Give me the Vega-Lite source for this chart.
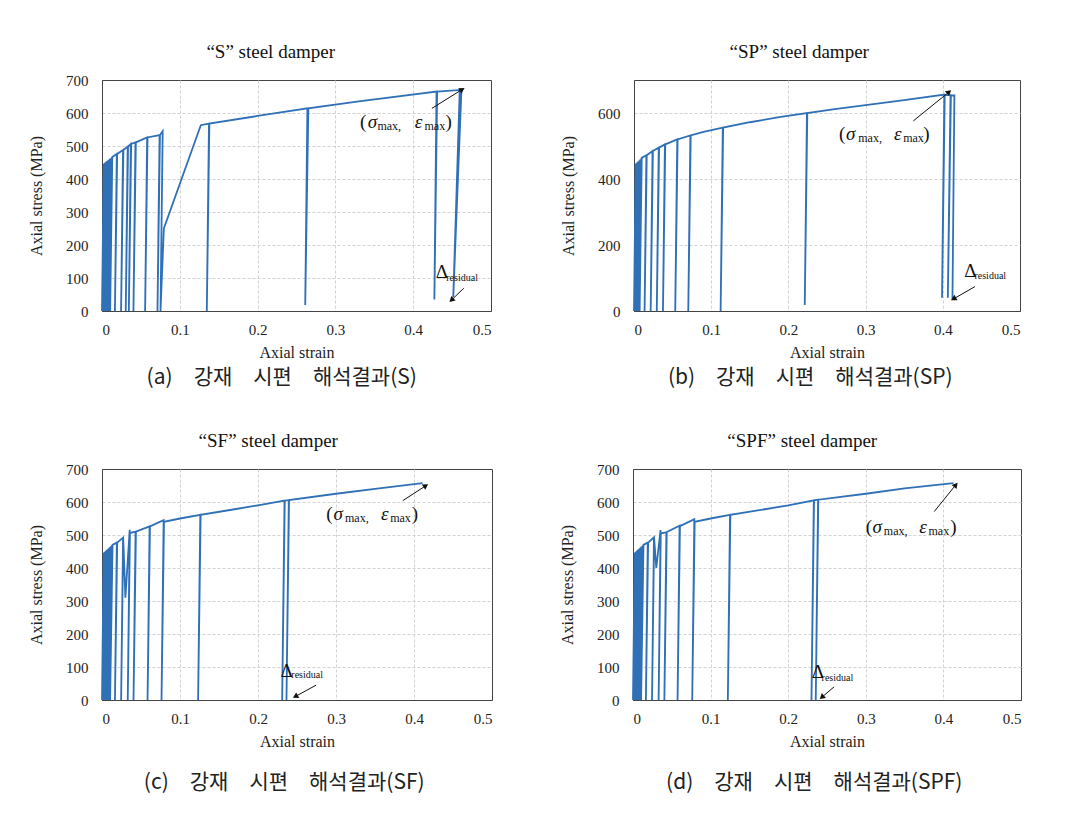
{
  "$schema": "https://vega.github.io/schema/vega-lite/v6.json",
  "background": "white",
  "padding": {"top": 42, "left": 28, "right": 5, "bottom": 5},
  "config": {
    "font": "Liberation Serif",
    "view": {"stroke": "#444", "strokeWidth": 1},
    "axis": {"gridColor": "#d2d2d2", "gridDash": [3, 2], "domainColor": "#444", "labelFont": "Liberation Serif", "labelFontSize": 15, "labelColor": "#222", "titleFont": "Liberation Serif", "titleFontSize": 16, "titleFontWeight": "normal", "titleColor": "#222", "ticks": false},
    "axisY": {"titlePadding": 21, "labelPadding": 14, "gridOpacity": {"condition": {"test": "datum.value >= 700 || datum.value <= 0", "value": 0}, "value": 1}},
    "axisX": {"titlePadding": 7, "labelPadding": 11, "gridOpacity": {"condition": {"test": "datum.value >= 0.5 || datum.value <= 0", "value": 0}, "value": 1}},
    "title": {"font": "Liberation Serif", "fontSize": 19, "fontWeight": "normal", "color": "#111", "frame": "bounds", "offset": 11},
    "text": {"font": "Liberation Serif", "color": "#111", "align": "left", "baseline": "alphabetic"}
  },
  "datasets": {
    "a": [
      {"x":0,"y":0},
      {"x":0.0023,"y":446},{"x":0.0001,"y":0},
      {"x":0.0032,"y":448},{"x":0.0010,"y":0},
      {"x":0.0042,"y":450},{"x":0.0020,"y":0},
      {"x":0.0052,"y":452},{"x":0.0030,"y":0},
      {"x":0.0063,"y":454},{"x":0.0041,"y":0},
      {"x":0.0074,"y":456},{"x":0.0052,"y":0},
      {"x":0.0086,"y":458},{"x":0.0064,"y":0},
      {"x":0.0099,"y":461},{"x":0.0076,"y":0},
      {"x":0.0113,"y":463},{"x":0.0090,"y":0},
      {"x":0.0128,"y":466},{"x":0.0105,"y":0},
      {"x":0.0132,"y":467},
      {"x":0.019,"y":476},{"x":0.0166,"y":0},{"x":0.0195,"y":476},
      {"x":0.027,"y":488},{"x":0.0245,"y":0},{"x":0.0275,"y":488},
      {"x":0.033,"y":498},{"x":0.0305,"y":0},{"x":0.0335,"y":498},
      {"x":0.037,"y":506},{"x":0.0345,"y":0},{"x":0.0375,"y":506},
      {"x":0.043,"y":511},{"x":0.0404,"y":0},{"x":0.0435,"y":511},
      {"x":0.058,"y":526},{"x":0.0554,"y":0},{"x":0.0585,"y":526},
      {"x":0.074,"y":533},{"x":0.0713,"y":0},{"x":0.0745,"y":533},
      {"x":0.078,"y":545},{"x":0.0752,"y":0},{"x":0.0795,"y":250},
      {"x":0.127,"y":563},{"x":0.1375,"y":568},{"x":0.1347,"y":0},{"x":0.138,"y":568},
      {"x":0.2,"y":591},{"x":0.264,"y":614},{"x":0.2612,"y":18},{"x":0.2652,"y":614},
      {"x":0.33,"y":635},{"x":0.43,"y":665},{"x":0.4272,"y":35},{"x":0.4308,"y":665},
      {"x":0.462,"y":670},{"x":0.4515,"y":42},{"x":0.4598,"y":668}
    ],
    "b": [
      {"x":0,"y":0},
      {"x":0.0022,"y":446},{"x":0.0000,"y":0},
      {"x":0.0031,"y":448},{"x":0.0009,"y":0},
      {"x":0.0040,"y":450},{"x":0.0018,"y":0},
      {"x":0.0050,"y":452},{"x":0.0028,"y":0},
      {"x":0.0060,"y":454},{"x":0.0038,"y":0},
      {"x":0.0071,"y":457},{"x":0.0049,"y":0},
      {"x":0.0083,"y":460},{"x":0.0061,"y":0},
      {"x":0.0096,"y":463},{"x":0.0073,"y":0},
      {"x":0.0100,"y":464},
      {"x":0.016,"y":472},{"x":0.0137,"y":0},{"x":0.0165,"y":472},
      {"x":0.024,"y":485},{"x":0.0216,"y":0},{"x":0.0245,"y":485},
      {"x":0.032,"y":495},{"x":0.0295,"y":0},{"x":0.0325,"y":495},
      {"x":0.040,"y":505},{"x":0.0375,"y":0},{"x":0.0405,"y":505},
      {"x":0.056,"y":520},{"x":0.0534,"y":0},{"x":0.0565,"y":520},
      {"x":0.073,"y":532},{"x":0.0703,"y":0},{"x":0.0735,"y":532},
      {"x":0.09,"y":543},{"x":0.115,"y":556},{"x":0.1122,"y":0},{"x":0.1155,"y":556},
      {"x":0.15,"y":572},{"x":0.19,"y":588},{"x":0.224,"y":600},{"x":0.2212,"y":18},{"x":0.2245,"y":600},
      {"x":0.26,"y":612},{"x":0.3,"y":624},{"x":0.35,"y":639},{"x":0.402,"y":656},{"x":0.399,"y":40},{"x":0.4025,"y":655},
      {"x":0.410,"y":654},{"x":0.4065,"y":40},{"x":0.4105,"y":653},{"x":0.415,"y":653},{"x":0.4125,"y":33}
    ],
    "c": [
      {"x":0,"y":0},
      {"x":0.0022,"y":446},{"x":0.0000,"y":0},
      {"x":0.0031,"y":448},{"x":0.0009,"y":0},
      {"x":0.0041,"y":450},{"x":0.0019,"y":0},
      {"x":0.0051,"y":452},{"x":0.0029,"y":0},
      {"x":0.0062,"y":455},{"x":0.0040,"y":0},
      {"x":0.0073,"y":457},{"x":0.0051,"y":0},
      {"x":0.0085,"y":460},{"x":0.0063,"y":0},
      {"x":0.0098,"y":463},{"x":0.0075,"y":0},
      {"x":0.0112,"y":466},{"x":0.0089,"y":0},
      {"x":0.0127,"y":469},{"x":0.0104,"y":0},
      {"x":0.0135,"y":470},
      {"x":0.019,"y":477},{"x":0.0166,"y":0},{"x":0.0195,"y":477},
      {"x":0.027,"y":492},{"x":0.0245,"y":0},{"x":0.0272,"y":490},{"x":0.030,"y":310},{"x":0.0355,"y":516},{"x":0.033,"y":0},{"x":0.0358,"y":506},
      {"x":0.043,"y":510},{"x":0.0404,"y":0},{"x":0.0435,"y":510},
      {"x":0.061,"y":526},{"x":0.0584,"y":0},{"x":0.0615,"y":526},
      {"x":0.079,"y":545},{"x":0.0763,"y":0},{"x":0.0795,"y":540},
      {"x":0.1,"y":550},{"x":0.126,"y":561},{"x":0.1232,"y":0},{"x":0.1265,"y":561},
      {"x":0.17,"y":578},{"x":0.2,"y":590},{"x":0.234,"y":604},{"x":0.2310,"y":0},{"x":0.2343,"y":604},{"x":0.2395,"y":606},{"x":0.2365,"y":0},{"x":0.2398,"y":606},
      {"x":0.3,"y":625},{"x":0.35,"y":640},{"x":0.411,"y":657}
    ],
    "d": [
      {"x":0,"y":0},
      {"x":0.0022,"y":446},{"x":0.0000,"y":0},
      {"x":0.0031,"y":448},{"x":0.0009,"y":0},
      {"x":0.0041,"y":450},{"x":0.0019,"y":0},
      {"x":0.0051,"y":452},{"x":0.0029,"y":0},
      {"x":0.0062,"y":455},{"x":0.0040,"y":0},
      {"x":0.0073,"y":457},{"x":0.0051,"y":0},
      {"x":0.0085,"y":460},{"x":0.0063,"y":0},
      {"x":0.0098,"y":463},{"x":0.0075,"y":0},
      {"x":0.0112,"y":466},{"x":0.0089,"y":0},
      {"x":0.0127,"y":469},{"x":0.0104,"y":0},
      {"x":0.0135,"y":470},
      {"x":0.019,"y":477},{"x":0.0166,"y":0},{"x":0.0195,"y":477},
      {"x":0.027,"y":493},{"x":0.0245,"y":0},{"x":0.0272,"y":491},{"x":0.030,"y":400},{"x":0.0355,"y":515},{"x":0.033,"y":0},{"x":0.0358,"y":505},
      {"x":0.043,"y":508},{"x":0.0404,"y":0},{"x":0.0435,"y":509},
      {"x":0.060,"y":528},{"x":0.0574,"y":0},{"x":0.0605,"y":527},
      {"x":0.079,"y":548},{"x":0.0763,"y":0},{"x":0.0795,"y":540},
      {"x":0.1,"y":550},{"x":0.125,"y":561},{"x":0.1222,"y":0},{"x":0.1255,"y":561},
      {"x":0.17,"y":578},{"x":0.2,"y":590},{"x":0.233,"y":605},{"x":0.2300,"y":0},{"x":0.2333,"y":605},{"x":0.2385,"y":607},{"x":0.2355,"y":0},{"x":0.2388,"y":607},
      {"x":0.3,"y":625},{"x":0.35,"y":641},{"x":0.413,"y":657}
    ]
  },
  "vconcat": [
    {"spacing": 68, "hconcat": [
      {"title": {"text": "(a)\u2003강재\u2003시편\u2003해석결과(S)", "orient": "bottom", "anchor": "middle", "frame": "bounds", "dx": 22, "font": "Noto Sans CJK KR", "fontSize": 21, "offset": 6, "color": "#222"},
       "vconcat": [{
        "width": 389, "height": 231,
        "title": {"text": "“S” steel damper", "dx": 11},
        "encoding": {
          "x": {"field": "x", "type": "quantitative", "title": "Axial strain", "scale": {"domain": [0, 0.5], "nice": false}, "axis": {"values": [0, 0.1, 0.2, 0.3, 0.4, 0.5], "format": ".1~f"}},
          "y": {"field": "y", "type": "quantitative", "title": "Axial stress (MPa)", "scale": {"domain": [0, 700], "nice": false}, "axis": {"values": [0, 100, 200, 300, 400, 500, 600, 700], "format": "d"}}
        },
        "layer": [
          {"data": {"name": "a"}, "mark": {"type": "line", "color": "#2f70b7", "strokeWidth": 1.8}, "encoding": {"order": {"value": null}}},
          {"data": {"values": [{"x": 0.424, "y": 614, "x2": 0.462, "y2": 670}, {"x": 0.465, "y": 69, "x2": 0.450, "y2": 35}]},
           "mark": {"type": "rule", "color": "#111", "strokeWidth": 1},
           "encoding": {"x2": {"field": "x2"}, "y2": {"field": "y2"}}},
          {"data": {"values": [{"x": 0.462, "y": 670}]}, "mark": {"type": "point", "shape": "triangle", "filled": true, "color": "#111", "size": 40, "angle": 59, "opacity": 1}},
          {"data": {"values": [{"x": 0.450, "y": 35}]}, "mark": {"type": "point", "shape": "triangle", "filled": true, "color": "#111", "size": 40, "angle": 227, "opacity": 1}},
          {"data": {"values": [{"x": 0.3316, "y": 556, "t": "("}, {"x": 0.4415, "y": 556, "t": ")"}, {"x": 0.429, "y": 99, "t": "Δ"}]},
           "mark": {"type": "text", "fontSize": 19}, "encoding": {"text": {"field": "t"}}},
          {"data": {"values": [{"x": 0.3415, "y": 556, "t": "σ"}, {"x": 0.4021, "y": 556, "t": "ε"}]},
           "mark": {"type": "text", "fontSize": 19, "fontStyle": "italic"}, "encoding": {"text": {"field": "t"}}},
          {"data": {"values": [{"x": 0.354, "y": 550, "t": "max,"}, {"x": 0.4145, "y": 550, "t": "max"}]},
           "mark": {"type": "text", "fontSize": 12}, "encoding": {"text": {"field": "t"}}},
          {"data": {"values": [{"x": 0.4425, "y": 92, "t": "residual"}]},
           "mark": {"type": "text", "fontSize": 10}, "encoding": {"text": {"field": "t"}}}
        ]
      }]},
      {"title": {"text": "(b)\u2003강재\u2003시편\u2003해석결과(SP)", "orient": "bottom", "anchor": "middle", "frame": "bounds", "dx": 20, "font": "Noto Sans CJK KR", "fontSize": 21, "offset": 6, "color": "#222"},
       "vconcat": [{
        "width": 386, "height": 231,
        "title": {"text": "“SP” steel damper", "dx": 9, "offset": 18},
        "encoding": {
          "x": {"field": "x", "type": "quantitative", "title": "Axial strain", "scale": {"domain": [0, 0.5], "nice": false}, "axis": {"values": [0, 0.1, 0.2, 0.3, 0.4, 0.5], "format": ".1~f"}},
          "y": {"field": "y", "type": "quantitative", "title": "Axial stress (MPa)", "scale": {"domain": [0, 700], "nice": false}, "axis": {"values": [0, 200, 400, 600], "format": "d"}}
        },
        "layer": [
          {"data": {"name": "b"}, "mark": {"type": "line", "color": "#2f70b7", "strokeWidth": 1.8}, "encoding": {"order": {"value": null}}},
          {"data": {"values": [{"x": 0.3618, "y": 576, "x2": 0.4072, "y2": 662}, {"x": 0.4417, "y": 74, "x2": 0.4149, "y2": 38}]},
           "mark": {"type": "rule", "color": "#111", "strokeWidth": 1},
           "encoding": {"x2": {"field": "x2"}, "y2": {"field": "y2"}}},
          {"data": {"values": [{"x": 0.4072, "y": 662}]}, "mark": {"type": "point", "shape": "triangle", "filled": true, "color": "#111", "size": 40, "angle": 49, "opacity": 1}},
          {"data": {"values": [{"x": 0.4149, "y": 38}]}, "mark": {"type": "point", "shape": "triangle", "filled": true, "color": "#111", "size": 40, "angle": 241, "opacity": 1}},
          {"data": {"values": [{"x": 0.2655, "y": 519, "t": "("}, {"x": 0.3748, "y": 519, "t": ")"}, {"x": 0.4278, "y": 102, "t": "Δ"}]},
           "mark": {"type": "text", "fontSize": 19}, "encoding": {"text": {"field": "t"}}},
          {"data": {"values": [{"x": 0.2746, "y": 519, "t": "σ"}, {"x": 0.3368, "y": 519, "t": "ε"}]},
           "mark": {"type": "text", "fontSize": 19, "fontStyle": "italic"}, "encoding": {"text": {"field": "t"}}},
          {"data": {"values": [{"x": 0.2905, "y": 513, "t": "max,"}, {"x": 0.3487, "y": 513, "t": "max"}]},
           "mark": {"type": "text", "fontSize": 12}, "encoding": {"text": {"field": "t"}}},
          {"data": {"values": [{"x": 0.441, "y": 96, "t": "residual"}]},
           "mark": {"type": "text", "fontSize": 10}, "encoding": {"text": {"field": "t"}}}
        ]
      }]}
    ]},
    {"spacing": 66, "hconcat": [
      {"title": {"text": "(c)\u2003강재\u2003시편\u2003해석결과(SF)", "orient": "bottom", "anchor": "middle", "frame": "bounds", "dx": 24, "font": "Noto Sans CJK KR", "fontSize": 21, "offset": 22, "color": "#222"},
       "vconcat": [{
        "width": 390, "height": 231,
        "title": {"text": "“SF” steel damper", "dx": 8},
        "encoding": {
          "x": {"field": "x", "type": "quantitative", "title": "Axial strain", "scale": {"domain": [0, 0.5], "nice": false}, "axis": {"values": [0, 0.1, 0.2, 0.3, 0.4, 0.5], "format": ".1~f"}},
          "y": {"field": "y", "type": "quantitative", "title": "Axial stress (MPa)", "scale": {"domain": [0, 700], "nice": false}, "axis": {"values": [0, 100, 200, 300, 400, 500, 600, 700], "format": "d"}}
        },
        "layer": [
          {"data": {"name": "c"}, "mark": {"type": "line", "color": "#2f70b7", "strokeWidth": 1.8}, "encoding": {"order": {"value": null}}},
          {"data": {"values": [{"x": 0.3856, "y": 604, "x2": 0.4142, "y2": 648}, {"x": 0.2745, "y": 45, "x2": 0.2489, "y2": 12}]},
           "mark": {"type": "rule", "color": "#111", "strokeWidth": 1},
           "encoding": {"x2": {"field": "x2"}, "y2": {"field": "y2"}}},
          {"data": {"values": [{"x": 0.4142, "y": 648}]}, "mark": {"type": "point", "shape": "triangle", "filled": true, "color": "#111", "size": 40, "angle": 57, "opacity": 1}},
          {"data": {"values": [{"x": 0.2489, "y": 12}]}, "mark": {"type": "point", "shape": "triangle", "filled": true, "color": "#111", "size": 40, "angle": 241, "opacity": 1}},
          {"data": {"values": [{"x": 0.2874, "y": 545, "t": "("}, {"x": 0.397, "y": 545, "t": ")"}, {"x": 0.2287, "y": 71, "t": "Δ"}]},
           "mark": {"type": "text", "fontSize": 19}, "encoding": {"text": {"field": "t"}}},
          {"data": {"values": [{"x": 0.2968, "y": 545, "t": "σ"}, {"x": 0.3578, "y": 545, "t": "ε"}]},
           "mark": {"type": "text", "fontSize": 19, "fontStyle": "italic"}, "encoding": {"text": {"field": "t"}}},
          {"data": {"values": [{"x": 0.3115, "y": 539, "t": "max,"}, {"x": 0.3695, "y": 539, "t": "max"}]},
           "mark": {"type": "text", "fontSize": 12}, "encoding": {"text": {"field": "t"}}},
          {"data": {"values": [{"x": 0.2427, "y": 66, "t": "residual"}]},
           "mark": {"type": "text", "fontSize": 10}, "encoding": {"text": {"field": "t"}}}
        ]
      }]},
      {"title": {"text": "(d)\u2003강재\u2003시편\u2003해석결과(SPF)", "orient": "bottom", "anchor": "middle", "frame": "bounds", "dx": 24, "font": "Noto Sans CJK KR", "fontSize": 21, "offset": 22, "color": "#222"},
       "vconcat": [{
        "width": 388, "height": 231,
        "title": {"text": "“SPF” steel damper", "dx": 12},
        "encoding": {
          "x": {"field": "x", "type": "quantitative", "title": "Axial strain", "scale": {"domain": [0, 0.5], "nice": false}, "axis": {"values": [0, 0.1, 0.2, 0.3, 0.4, 0.5], "format": ".1~f"}},
          "y": {"field": "y", "type": "quantitative", "title": "Axial stress (MPa)", "scale": {"domain": [0, 700], "nice": false}, "axis": {"values": [0, 100, 200, 300, 400, 500, 600, 700], "format": "d"}}
        },
        "layer": [
          {"data": {"name": "d"}, "mark": {"type": "line", "color": "#2f70b7", "strokeWidth": 1.8}, "encoding": {"order": {"value": null}}},
          {"data": {"values": [{"x": 0.3882, "y": 571, "x2": 0.4153, "y2": 650}, {"x": 0.2592, "y": 40, "x2": 0.2442, "y2": 10}]},
           "mark": {"type": "rule", "color": "#111", "strokeWidth": 1},
           "encoding": {"x2": {"field": "x2"}, "y2": {"field": "y2"}}},
          {"data": {"values": [{"x": 0.4153, "y": 650}]}, "mark": {"type": "point", "shape": "triangle", "filled": true, "color": "#111", "size": 40, "angle": 39, "opacity": 1}},
          {"data": {"values": [{"x": 0.2442, "y": 10}]}, "mark": {"type": "point", "shape": "triangle", "filled": true, "color": "#111", "size": 40, "angle": 229, "opacity": 1}},
          {"data": {"values": [{"x": 0.300, "y": 506, "t": "("}, {"x": 0.4089, "y": 506, "t": ")"}, {"x": 0.2303, "y": 66, "t": "Δ"}]},
           "mark": {"type": "text", "fontSize": 19}, "encoding": {"text": {"field": "t"}}},
          {"data": {"values": [{"x": 0.3087, "y": 506, "t": "σ"}, {"x": 0.3689, "y": 506, "t": "ε"}]},
           "mark": {"type": "text", "fontSize": 19, "fontStyle": "italic"}, "encoding": {"text": {"field": "t"}}},
          {"data": {"values": [{"x": 0.3232, "y": 501, "t": "max,"}, {"x": 0.3808, "y": 501, "t": "max"}]},
           "mark": {"type": "text", "fontSize": 12}, "encoding": {"text": {"field": "t"}}},
          {"data": {"values": [{"x": 0.243, "y": 59, "t": "residual"}]},
           "mark": {"type": "text", "fontSize": 10}, "encoding": {"text": {"field": "t"}}}
        ]
      }]}
    ]}
  ],
  "spacing": 43
}
